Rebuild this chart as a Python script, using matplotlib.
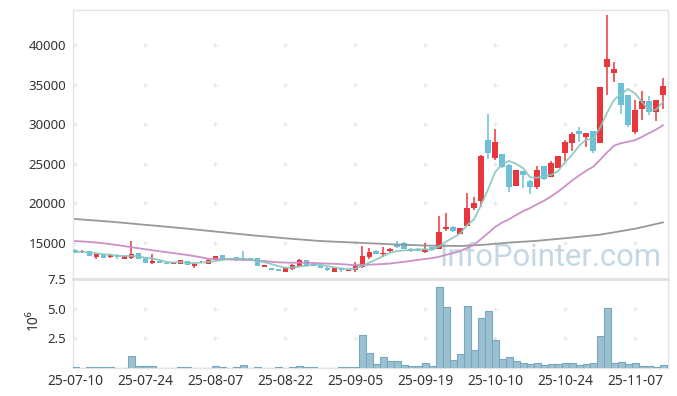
import matplotlib
matplotlib.use("Agg")
import matplotlib.pyplot as plt
import numpy as np
import pandas as pd
from matplotlib.ticker import FuncFormatter

# ---------------- data ----------------
dates = ["07-10", "07-11", "07-14", "07-15", "07-16", "07-17", "07-18", "07-21", "07-22", "07-23",
         "07-24", "07-25", "07-28", "07-29", "07-30", "07-31", "08-01", "08-04", "08-05", "08-06",
         "08-07", "08-08", "08-11", "08-12", "08-13", "08-14", "08-18", "08-19", "08-20", "08-21",
         "08-22", "08-25", "08-26", "08-27", "08-28", "08-29", "09-01", "09-02", "09-03", "09-04",
         "09-05", "09-08", "09-09", "09-10", "09-11", "09-12", "09-15", "09-16", "09-17", "09-18",
         "09-19", "09-22", "09-23", "09-24", "09-25", "09-26", "09-29", "09-30", "10-01", "10-02",
         "10-10", "10-13", "10-14", "10-15", "10-16", "10-17", "10-20", "10-21", "10-22", "10-23",
         "10-24", "10-27", "10-28", "10-29", "10-30", "10-31", "11-03", "11-04", "11-05", "11-06",
         "11-07", "11-10", "11-11", "11-12", "11-13"]
dates = ["25-" + d for d in dates]

opens = [14120, 13820, 13990, 13230, 13530, 13230, 13490, 12980, 13060, 13740,
         13150, 12480, 12730, 12520, 12390, 12350, 12730, 12050, 12560, 12390,
         12850, 13490, 12980, 13230, 13150, 13060, 13060, 11970, 11890, 11760,
         11380, 11720, 12050, 12850, 12400, 12140, 11890, 11380, 11800, 11470,
         11550, 12010, 13190, 14030, 13550, 13950, 14790, 15040, 14280, 14280,
         13860, 14460, 14280, 16810, 17060, 16140, 17150, 19420, 20270, 28010,
         25730, 26240, 24890, 22240, 24090, 22870, 22110, 24720, 23370, 24470,
         26400, 27670, 29100, 28430, 29140, 27670, 37260, 36430, 35200, 33690,
         29050, 31880, 32930, 31500, 33730]
highs = [14200, 14080, 14030, 13650, 13650, 13570, 13650, 13400, 15250, 13780,
         13190, 13570, 12770, 12540, 12540, 12880, 12760, 12420, 12680, 12930,
         13400, 13520, 13140, 13260, 13990, 13100, 13100, 12250, 11900, 11780,
         11910, 12390, 12980, 12880, 12430, 12160, 11910, 11910, 11830, 11660,
         12550, 14620, 14330, 14070, 14500, 14350, 15290, 15080, 14320, 14400,
         15040, 14500, 18410, 18750, 17100, 16930, 21280, 20770, 26050, 31290,
         29360, 26300, 24950, 24260, 24130, 22900, 24720, 24760, 25350, 26020,
         28010, 29020, 29680, 28880, 29180, 34700, 43790, 37820, 35240, 33720,
         33060, 34190, 33560, 33050, 35800]
lows = [13780, 13800, 13380, 12980, 13060, 13150, 12980, 12950, 12980, 12950,
        12440, 12310, 12440, 12350, 12370, 12330, 12200, 11800, 12520, 12370,
        12820, 12950, 12950, 12780, 12730, 12950, 12100, 11940, 11600, 11480,
        11360, 11550, 11970, 12100, 12090, 11860, 11520, 11360, 11300, 11440,
        11400, 11800, 12980, 13580, 13200, 13900, 14420, 14250, 13920, 13990,
        13700, 14090, 14200, 16550, 16440, 16100, 17100, 19170, 19580, 25570,
        25480, 24500, 21440, 22200, 21900, 21190, 21780, 23000, 23330, 24430,
        25390, 26580, 27790, 27080, 26330, 27630, 33650, 35330, 31290, 29680,
        28760, 30530, 31200, 30440, 31880]
closes = [13820, 14030, 13400, 13610, 13110, 13490, 13230, 13360, 13650, 12980,
          12480, 12770, 12480, 12390, 12520, 12850, 12220, 12390, 12640, 12900,
          13360, 12980, 13110, 12810, 12810, 12980, 12140, 12220, 11630, 11510,
          11890, 12220, 12850, 12140, 12120, 11890, 11550, 11890, 11550, 11630,
          12100, 13400, 13830, 13610, 13750, 14200, 14460, 14280, 13950, 14030,
          14280, 14120, 16390, 17060, 16480, 16890, 19420, 20090, 25990, 26400,
          27750, 24560, 22110, 24220, 23620, 22030, 24220, 23040, 25060, 25990,
          27750, 28760, 28800, 28850, 26650, 34660, 38230, 36970, 32460, 29940,
          31790, 32970, 31500, 33010, 34820]
volumes = [85e3, 20e3, 85e3, 85e3, 85e3, 85e3, 20e3, 20e3, 990e3, 140e3,
           140e3, 140e3, 20e3, 20e3, 20e3, 85e3, 85e3, 20e3, 20e3, 20e3,
           140e3, 85e3, 20e3, 85e3, 230e3, 20e3, 85e3, 20e3, 20e3, 85e3,
           20e3, 85e3, 140e3, 85e3, 85e3, 20e3, 20e3, 20e3, 85e3, 85e3,
           85e3, 2800e3, 1270e3, 310e3, 900e3, 565e3, 565e3, 225e3, 140e3, 140e3,
           395e3, 140e3, 6860e3, 5140e3, 650e3, 1160e3, 5220e3, 1500e3, 4200e3, 4800e3,
           2340e3, 735e3, 900e3, 565e3, 395e3, 310e3, 395e3, 225e3, 310e3, 310e3,
           395e3, 395e3, 225e3, 310e3, 395e3, 2680e3, 5050e3, 395e3, 480e3, 310e3,
           395e3, 140e3, 140e3, 60e3, 225e3]

# 20-day average before a full 20-day window exists
ma20_head = [15250, 15200, 15140, 15060, 14970, 14860, 14740, 14610, 14480, 14350,
             14220, 14090, 13970, 13850, 13730, 13610, 13490, 13350, 13200]
# long (120-day) average
ma120_idx = [0, 5, 10, 15, 20, 25, 30, 35, 40, 45, 50, 55, 58, 62, 66, 70, 75, 80, 84]
ma120_val = [18030, 17700, 17300, 16900, 16450, 16000, 15600, 15250, 15050, 14850,
             14680, 14620, 14750, 15050, 15280, 15600, 16050, 16800, 17600]

price_ticks = [15000, 20000, 25000, 30000, 35000, 40000]
vol_ticks = [2.5e6, 5.0e6, 7.5e6]
tick_step = 10

# ---------------- figure ----------------
plt.rcParams['font.family'] = ['Noto Sans', 'DejaVu Sans']
W, H = 677, 396
fig = plt.figure(figsize=(W / 100, H / 100), dpi=100)
L, R = 73, 667.7
ax = fig.add_axes([L / W, 1 - 279 / H, (R - L) / W, 269 / H])
axv = fig.add_axes([L / W, 1 - 368 / H, (R - L) / W, 89 / H], sharex=ax)

df = pd.DataFrame({"open": opens, "high": highs, "low": lows, "close": closes, "vol": volumes})
x = np.arange(len(df))
up = df["close"] >= df["open"]
RED, BLUE = "#E8363C", "#6CC0D8"
cols = np.where(up, RED, BLUE)

# wicks
ax.vlines(x, df["low"], df["high"], colors=cols, linewidth=1.1, zorder=2)
# bodies
body_bot = np.minimum(df["open"], df["close"])
body_h = np.maximum((df["close"] - df["open"]).abs(), 90)
ax.bar(x, body_h, bottom=body_bot, width=0.72, color=cols, linewidth=0, zorder=3)

# moving averages
ma5 = df["close"].rolling(5, min_periods=1).mean()
ma20 = df["close"].rolling(20).mean()
ma20.iloc[:len(ma20_head)] = ma20_head
ax.plot(ma120_idx, ma120_val, color="#8E8E8E", lw=1.3, alpha=0.9, zorder=4)
ax.plot(x, ma20, color="#C98BC6", lw=1.3, alpha=0.95, zorder=4)
ax.plot(x, ma5, color="#86C7BC", lw=1.3, alpha=0.9, zorder=5)

# watermark
ax.text((550.5 - L) / (R - L), (279 - 266) / 269, "InfoPointer.com", transform=ax.transAxes,
        ha="center", va="baseline", fontsize=22.3, color="#C3D8E4", zorder=1,
        family=["Roboto", "DejaVu Sans"])

# volume
axv.bar(x, df["vol"], width=1.0, color="#9BC1D1", edgecolor="#78A8BF", linewidth=0.8, zorder=3)

# limits
ax.set_xlim(-0.29, 84.67)
ax.set_ylim(10455, 44420)
axv.set_ylim(0, 7.5e6)

tick_pos = x[::tick_step]
grid_c = "#E6E6E6"
gx, gy = np.meshgrid(tick_pos, price_ticks)
ax.scatter(gx.ravel(), gy.ravel(), marker="+", s=12, color=grid_c, linewidths=0.9, zorder=0)
gx, gy = np.meshgrid(tick_pos, vol_ticks[:2])
axv.scatter(gx.ravel(), gy.ravel(), marker="+", s=12, color=grid_c, linewidths=0.9, zorder=0)

ax.set_yticks(price_ticks)
ax.yaxis.set_major_formatter(FuncFormatter(lambda v, p: f"{int(v)}"))
axv.set_yticks(vol_ticks)
axv.yaxis.set_major_formatter(FuncFormatter(lambda v, p: f"{v / 1e6:.1f}"))
axv.set_xticks(tick_pos)
axv.set_xticklabels([dates[i] for i in tick_pos])
plt.setp(ax.get_xticklabels(), visible=False)

for a in (ax, axv):
    a.tick_params(axis="both", length=0, labelsize=9.5, labelcolor="#333333")
    a.tick_params(axis="y", pad=5)
    a.tick_params(axis="x", pad=4, labelsize=10)
    for s in a.spines.values():
        s.set_color("#E4E4E4")
        s.set_linewidth(1.0)
    a.set_facecolor("none")

ax.spines["bottom"].set_visible(False)
axv.spines["top"].set_linewidth(2.0)
axv.spines["top"].set_color("#E0E0E0")

axv.set_ylabel("10⁶", fontsize=10, color="#333333")
axv.yaxis.set_label_coords((41 - L) / (R - L), 0.54)

fig.savefig("out.png", dpi=100, facecolor="white")
